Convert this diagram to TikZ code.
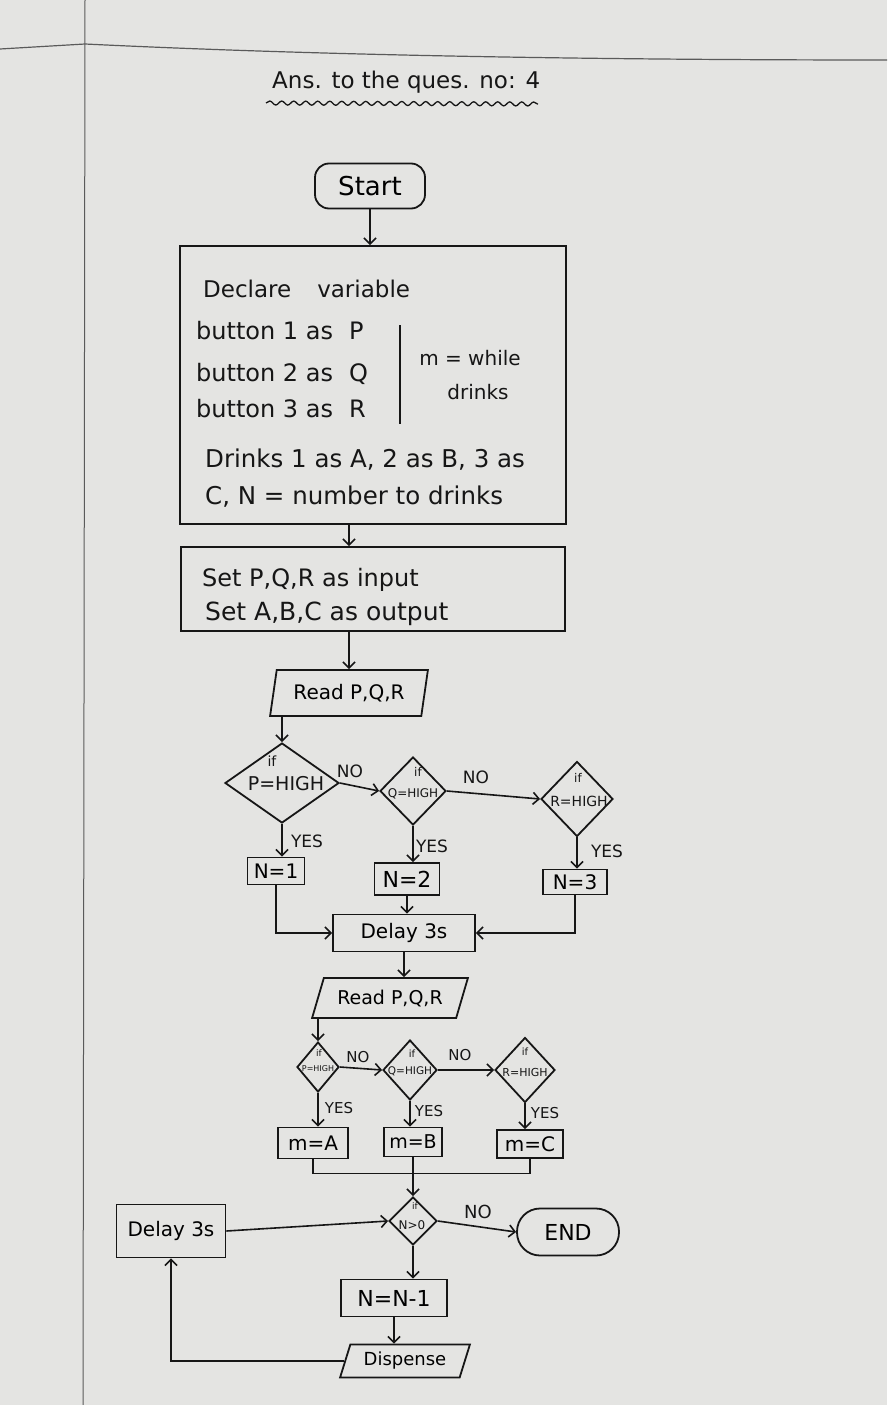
\documentclass[tikz,border=0pt]{standalone}
\usepackage{fontspec}
\setmainfont{DejaVu Sans}
\usetikzlibrary{shapes.geometric,arrows.meta,decorations.pathmorphing}
\definecolor{paper}{HTML}{E4E4E2}
\definecolor{ink}{HTML}{161616}
\definecolor{rulecol}{HTML}{5A5A5A}
\newcommand\myfs[1]{\fontsize{#1}{#1}\selectfont}
\begin{document}
\begin{tikzpicture}[x=1pt,y=-1pt,
  box/.style={draw=ink, line width=1.8pt, rectangle, inner sep=0pt},
  dia/.style={draw=ink, line width=1.8pt, diamond, inner sep=0pt},
  para/.style={draw=ink, line width=1.8pt, trapezium, trapezium stretches=true, inner sep=0pt},
  txt/.style={text=ink, inner sep=0pt},
  arr/.style={draw=ink, line width=1.6pt, -{Straight Barb[length=6pt,width=12pt]}},
  con/.style={draw=ink, line width=1.6pt},
]
\fill[paper] (0,0) rectangle (887,1405);
\useasboundingbox (0,0) rectangle (887,1405);
% notebook rules
\draw[rulecol, line width=1pt] (85,0) -- (83,1405);
\draw[rulecol, line width=1.2pt] (0,49) -- (85,44) .. controls (250,52) and (500,60) .. (887,60);

% title
\node[txt, anchor=west] (title) at (272,82) {\myfs{23}Ans. to the ques. no: 4};
\draw[ink, line width=1.3pt, decorate, decoration={snake, amplitude=2pt, segment length=12pt}] (266,103) -- (538,104);

% start
\node[box, rounded corners=14pt, minimum width=110pt, minimum height=45pt] (start) at (370,186) {\myfs{26}Start};

% declare box
\node[box, minimum width=386pt, minimum height=278pt] (decl) at (373,385) {};
\node[txt, anchor=west] (t1) at (203,289) {\myfs{23}Declare\hspace{26pt}variable};
\node[txt, anchor=west] (t2) at (196,331) {\myfs{24}button 1 as\hspace{16pt}P};
\node[txt, anchor=west] (t3) at (196,374) {\myfs{24}button 2 as\hspace{16pt}Q};
\node[txt, anchor=west] (t4) at (196,409) {\myfs{24}button 3 as\hspace{16pt}R};
\draw[con] (400,325) -- (400,424);
\node[txt] (t5) at (470,358) {\myfs{20}m = while};
\node[txt] (t6) at (478,392) {\myfs{20}drinks};
\node[txt, anchor=west] (t7) at (205,460) {\myfs{24.5}Drinks 1 as A, 2 as B, 3 as};
\node[txt, anchor=west] (t8) at (205,497) {\myfs{24.5}C, N = number to drinks};

% set box
\node[box, minimum width=384pt, minimum height=84pt] (set) at (373,589) {};
\node[txt, anchor=west] (s1) at (202,580) {\myfs{24}Set P,Q,R as input};
\node[txt, anchor=west] (s2) at (205,614) {\myfs{25}Set A,B,C as output};

% read 1
\node[para, trapezium left angle=74, trapezium right angle=106, minimum width=158pt, minimum height=46pt] (rd1) at (349,693) {\myfs{20}Read P,Q,R};

% row 1 decisions
\node[dia, minimum width=114pt, minimum height=80pt] (pd) at (282,783) {};
\node[txt] (pif) at (272,761) {\myfs{14}if};
\node[txt] (pdt) at (286,784) {\myfs{19}P=HIGH};
\node[dia, minimum width=66pt, minimum height=68pt] (qd) at (413,791) {};
\node[txt] (qif) at (418,772) {\myfs{12}if};
\node[txt] (qdt) at (413,794) {\myfs{12}Q=HIGH};
\node[dia, minimum width=72pt, minimum height=75pt] (rd) at (577,799) {};
\node[txt] (rif) at (578,778) {\myfs{12}if};
\node[txt] (rdt) at (579,801) {\myfs{14}R=HIGH};
\node[txt] (no1) at (350,771) {\myfs{17}NO};
\node[txt] (no2) at (476,777) {\myfs{17}NO};
\node[txt] (y1) at (307,841) {\myfs{17}YES};
\node[txt] (y2) at (432,846) {\myfs{17}YES};
\node[txt] (y3) at (607,851) {\myfs{17}YES};
\node[box, minimum width=57pt, minimum height=27pt] (n1) at (276,871) {\myfs{20}N=1};
\node[box, minimum width=65pt, minimum height=32pt] (n2) at (407,879) {\myfs{22}N=2};
\node[box, minimum width=64pt, minimum height=25pt] (n3) at (575,882) {\myfs{20}N=3};

% delay 1
\node[box, minimum width=142pt, minimum height=37pt] (delay1) at (404,933) {\myfs{20}Delay 3s};

% read 2
\node[para, trapezium left angle=61, trapezium right angle=119, minimum width=156pt, minimum height=40pt] (rd2) at (390,998) {\myfs{19}Read P,Q,R};

% row 2 decisions
\node[dia, minimum width=42pt, minimum height=50pt] (p2) at (318,1067) {};
\node[txt] (p2if) at (319,1053) {\myfs{9}if};
\node[txt] (p2t) at (318,1069) {\myfs{8}P=HIGH};
\node[dia, minimum width=54pt, minimum height=60pt] (q2) at (410,1070) {};
\node[txt] (q2if) at (412,1054) {\myfs{10}if};
\node[txt] (q2t) at (410,1071) {\myfs{10.5}Q=HIGH};
\node[dia, minimum width=60pt, minimum height=65pt] (r2) at (525,1070) {};
\node[txt] (r2if) at (525,1052) {\myfs{10}if};
\node[txt] (r2t) at (525,1072) {\myfs{11}R=HIGH};
\node[txt] (no3) at (358,1057) {\myfs{15}NO};
\node[txt] (no4) at (460,1055) {\myfs{15}NO};
\node[txt] (y4) at (339,1108) {\myfs{15}YES};
\node[txt] (y5) at (429,1111) {\myfs{15}YES};
\node[txt] (y6) at (545,1113) {\myfs{15}YES};
\node[box, minimum width=70pt, minimum height=31pt] (ma) at (313,1143) {\myfs{20}m=A};
\node[box, minimum width=58pt, minimum height=29pt] (mb) at (413,1142) {\myfs{19}m=B};
\node[box, minimum width=66pt, minimum height=28pt] (mc) at (530,1144) {\myfs{20}m=C};

% bottom part
\node[dia, minimum width=48pt, minimum height=48pt] (n0) at (413,1221) {};
\node[txt] (n0if) at (415,1206) {\myfs{9}if};
\node[txt] (n0t) at (412,1225) {\myfs{12}N>0};
\node[txt] (no5) at (478,1212) {\myfs{18}NO};
\node[box, rounded corners=23pt, minimum width=102pt, minimum height=47pt] (end) at (568,1232) {\myfs{22}END};
\node[box, minimum width=109pt, minimum height=53pt] (delay2) at (171,1231) {\myfs{20}Delay 3s};
\node[box, minimum width=106pt, minimum height=37pt] (nn1) at (394,1298) {\myfs{22}N=N-1};
\node[para, trapezium left angle=66, trapezium right angle=114, minimum width=131pt, minimum height=33pt] (disp) at (405,1361) {\myfs{18}Dispense};

% connectors
\draw[arr] (start.south) -- (start.south |- decl.north);
\draw[arr] (rd1.north |- decl.south) -- (rd1.north |- set.north);
\draw[arr] (set.south -| rd1.north) -- (rd1.north);
\draw[arr] (pd.north |- rd1.south) -- (pd.north);
\draw[arr] (pd.east) -- (qd.west);
\draw[arr] (qd.east) -- (rd.west);
\draw[arr] (pd.south) -- (pd.south |- n1.north);
\draw[arr] (qd.south) -- (qd.south |- n2.north);
\draw[arr] (rd.south) -- (rd.south |- n3.north);
\draw[arr] (n1.south) |- (delay1.west);
\draw[arr] (n2.south) -- (n2.south |- delay1.north);
\draw[arr] (n3.south) |- (delay1.east);
\draw[arr] (delay1.south) -- (delay1.south |- rd2.north);
\draw[arr] (p2.north |- rd2.south) -- (p2.north);
\draw[arr] (p2.east) -- (q2.west);
\draw[arr] (q2.east) -- (r2.west);
\draw[arr] (p2.south) -- (p2.south |- ma.north);
\draw[arr] (q2.south) -- (q2.south |- mb.north);
\draw[arr] (r2.south) -- (r2.south |- mc.north);
\draw[con] (ma.south) -- ++(0,14) -| (mc.south);
\draw[arr] (mb.south) -- (n0.north);
\draw[arr] (n0.east) -- (end.west);
\draw[arr] (delay2.east) -- (n0.west);
\draw[arr] (n0.south) -- (n0.south |- nn1.north);
\draw[arr] (nn1.south) -- (nn1.south |- disp.north);
\draw[arr] (disp.west) -| (delay2.south);
\end{tikzpicture}
\end{document}
